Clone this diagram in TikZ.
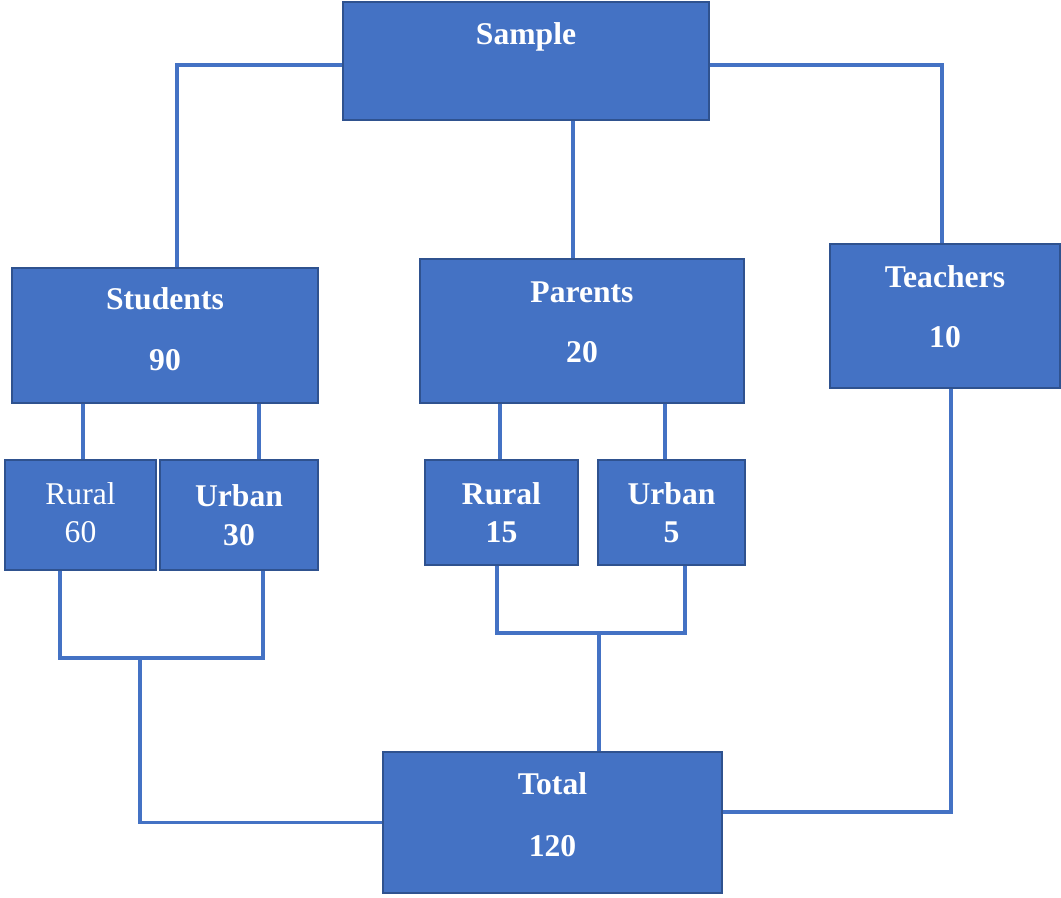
\documentclass[tikz,border=0pt]{standalone}
\usepackage{fontspec}
\setmainfont{Liberation Serif}
\usetikzlibrary{positioning, calc}
\definecolor{clrfill}{HTML}{4472C4}
\definecolor{clrborder}{HTML}{2F528F}
\definecolor{clrlink}{HTML}{4472C4}
\definecolor{clrtext}{HTML}{FFFFFF}

\begin{document}
\begin{tikzpicture}[
    x=0.02cm, y=-0.02cm,
    every node/.style={font=\fontsize{18}{22}\selectfont\bfseries},
    block/.style={draw=clrborder, fill=clrfill, line width=1.1pt, text=clrtext,
                  align=center, inner sep=0pt},
    subblock/.style={block, line width=0.9pt},
    link/.style={draw=clrlink, line width=2.1pt},
    label/.style={font=\fontsize{18}{22}\selectfont\bfseries, text=clrtext},
]
\useasboundingbox (0,0) rectangle (1061,897);
\node[block, minimum width=7.32cm, minimum height=2.36cm] (n_sample) at (526,61) {};
\node[label] (t_sample) at (526,37) {Sample};
\node[block, minimum width=6.12cm, minimum height=2.7cm, text depth=0.26cm] (n_students) at (165,335.5) {Students\\[12.5pt]90};
\node[block, minimum width=6.48cm, minimum height=2.88cm, text depth=0.36cm] (n_parents) at (582,331) {Parents\\[12.5pt]20};
\node[block, minimum width=4.6cm, minimum height=2.88cm, text depth=0.38cm] (n_teachers) at (945,316) {Teachers\\[12.5pt]10};
\node[subblock, minimum width=3.02cm, minimum height=2.2cm, font=\fontsize{18}{22}\selectfont, text depth=0.1cm] (n_rural_s) at (80.5,515) {Rural\\60};
\node[subblock, minimum width=3.16cm, minimum height=2.2cm] (n_urban_s) at (239,515) {Urban\\30};
\node[subblock, minimum width=3.06cm, minimum height=2.1cm] (n_rural_p) at (501.5,512.5) {Rural\\15};
\node[subblock, minimum width=2.94cm, minimum height=2.1cm] (n_urban_p) at (671.5,512.5) {Urban\\5};
\node[block, minimum width=6.78cm, minimum height=2.82cm, text depth=0.32cm] (n_total) at (552.5,822.5) {Total\\[13pt]120};
% junctions
\coordinate (c_sl) at (177,65);
\coordinate (c_sr) at (942,65);
\coordinate (c_sp) at (573,190);
\coordinate (c_stl) at (83,430);
\coordinate (c_str) at (259,430);
\coordinate (c_ptl) at (500,430);
\coordinate (c_ptr) at (665,430);
\coordinate (c_sb1) at (60,658);
\coordinate (c_sb2) at (263,658);
\coordinate (c_sb) at (140,658);
\coordinate (c_pb1) at (497,633);
\coordinate (c_pb2) at (685,633);
\coordinate (c_pb) at (599,633);
\coordinate (c_tt) at (951,812);
\draw[link] (n_sample.west |- c_sl) -| (n_students.north -| c_sl);
\draw[link] (n_sample.east |- c_sr) -| (n_teachers.north -| c_sr);
\draw[link] (n_sample.south -| c_sp) -- (n_parents.north -| c_sp);
\draw[link] (n_students.south -| c_stl) -- (n_rural_s.north -| c_stl);
\draw[link] (n_students.south -| c_str) -- (n_urban_s.north -| c_str);
\draw[link] (n_parents.south -| c_ptl) -- (n_rural_p.north -| c_ptl);
\draw[link] (n_parents.south -| c_ptr) -- (n_urban_p.north -| c_ptr);
\draw[link] (n_rural_s.south -| c_sb1) |- (c_sb2) -- (n_urban_s.south -| c_sb2);
\draw[link] (n_rural_p.south -| c_pb1) |- (c_pb2) -- (n_urban_p.south -| c_pb2);
\draw[link] (c_sb) |- (n_total.west);
\draw[link] (c_pb) -- (n_total.north -| c_pb);
\draw[link] (n_teachers.south -| c_tt) |- (n_total.east |- c_tt);
\end{tikzpicture}
\end{document}
